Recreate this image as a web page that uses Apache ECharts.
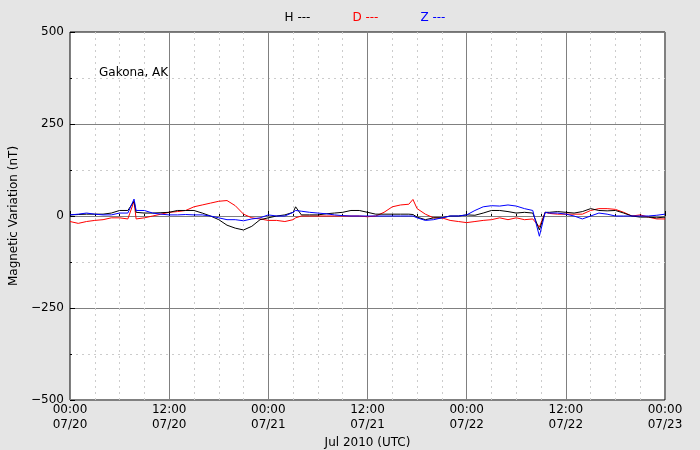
<!DOCTYPE html>
<html>
<head>
<meta charset="utf-8">
<script src="https://cdn.jsdelivr.net/npm/echarts@6/dist/echarts.min.js"></script>
<style>html,body{margin:0;background:#e5e5e5}#main{width:700px;height:450px}</style>
</head>
<body>
<div id="main"></div>
<script>
// hours since 07/20 00:00 UTC
const hours = [0,1,2,3,4,5,6,7,7.75,8,9,10,11,12,13,14,15,16,17,18,19,20,21,22,23,24,25,26,27,27.3,28,29,30,31,32,33,34,
  35,36,37,38,39,40,41,41.5,42,43,44,45,46,47,48,49,50,51,52,53,54,55,56,56.8,57.5,58,59,60,61,62,63,64,65,66,67,68,69,70,71,72]
const hValues = [3,4,5,5,5,8,15,15,40,10,8,8,9,10,15,15,15,8,0,-10,-25,-33,-38,-28,-10,-5,0,3,10,25,3,3,3,6,8,10,15,
  15,10,5,5,5,5,5,4,-3,-10,-5,-5,0,0,3,2,8,15,15,12,8,10,8,-38,10,10,12,10,8,12,20,15,14,15,8,0,-3,-3,-5,-3]
const dValues = [-15,-20,-15,-12,-10,-5,-5,-8,40,-8,-5,0,5,10,12,15,25,30,35,40,42,28,5,-5,-8,-12,-12,-15,-10,-5,0,0,0,0,0,0,0,
  0,-2,0,10,25,30,32,45,20,5,-5,-5,-12,-15,-18,-15,-12,-10,-5,-10,-5,-10,-8,-30,10,7,5,5,5,5,15,20,20,18,10,0,3,-3,-8,-8]
const zValues = [3,5,8,5,3,3,8,8,46,15,15,8,5,3,3,4,3,3,0,-5,-10,-10,-13,-8,-5,3,0,0,10,15,13,10,8,6,3,1,0,
  0,0,0,0,0,0,0,0,-5,-12,-10,-5,0,0,3,15,25,28,27,30,27,20,15,-55,10,8,8,5,0,-8,0,8,5,0,0,0,0,0,2,5]
const tickDates = ['07/20','07/20','07/21','07/21','07/22','07/22','07/23']

const pair = (vals) => hours.map((h, i) => [h, vals[i]])

var myChart = echarts.init(document.getElementById('main'))

const dotted = { show: true, lineStyle: { color: '#cccccc', type: [2, 4], width: 1 } }
const textFont = { fontFamily: 'DejaVu Sans', fontSize: 12, color: '#000' }

var option = {
  backgroundColor: '#e5e5e5',
  animation: false,
  grid: { left: 70, right: 35, top: 32, bottom: 50, outerBoundsMode: 'none', containLabel: false,
    show: true, backgroundColor: '#fff', borderColor: '#000', borderWidth: 1 },
  legend: {
    top: 6, left: 'center', icon: 'none', itemGap: 12,
    data: [
      { name: 'H ---', textStyle: { color: '#000' } },
      { name: 'D ---', textStyle: { color: '#ff0000' } },
      { name: 'Z ---', textStyle: { color: '#0000ff' } }
    ],
    textStyle: { fontFamily: 'DejaVu Sans', fontSize: 12 }
  },
  graphic: [{ type: 'text', left: 99, top: 67, style: { text: 'Gakona, AK', font: '12px DejaVu Sans', fill: '#000' } }],
  xAxis: {
    type: 'value', min: 0, max: 72, interval: 12,
    name: 'Jul 2010 (UTC)', nameLocation: 'middle', nameGap: 32, nameTextStyle: textFont,
    axisLine: { show: false },
    axisTick: { inside: true, length: 5, lineStyle: { color: '#000' } },
    minorTick: { show: true, splitNumber: 4, length: 2, lineStyle: { color: '#000' } },
    axisLabel: Object.assign({ margin: 2, lineHeight: 15,
      formatter: (v) => (v % 24 === 0 ? '00:00' : '12:00') + '\n' + tickDates[v / 12] }, textFont),
    splitLine: { show: true, lineStyle: { color: '#808080', width: 1 } },
    minorSplitLine: dotted
  },
  yAxis: {
    type: 'value', min: -500, max: 500, interval: 250,
    name: 'Magnetic Variation (nT)', nameLocation: 'middle', nameGap: 44, nameTextStyle: textFont,
    axisLine: { show: false },
    axisTick: { inside: true, length: 5, lineStyle: { color: '#000' } },
    minorTick: { show: true, splitNumber: 2, length: 2, lineStyle: { color: '#000' } },
    axisLabel: Object.assign({ margin: 6, formatter: (v) => String(v).replace('-', '\u2212') }, textFont),
    splitLine: { show: true, lineStyle: { color: '#808080', width: 1 } },
    minorSplitLine: dotted
  },
  series: [
    { name: 'H ---', type: 'line', data: pair(hValues), showSymbol: false, lineStyle: { color: '#000', width: 1 }, itemStyle: { color: '#000' }, z: 3 },
    { name: 'D ---', type: 'line', data: pair(dValues), showSymbol: false, lineStyle: { color: '#ff0000', width: 1 }, itemStyle: { color: '#ff0000' }, z: 2 },
    { name: 'Z ---', type: 'line', data: pair(zValues), showSymbol: false, lineStyle: { color: '#0000ff', width: 1 }, itemStyle: { color: '#0000ff' }, z: 4 }
  ]
}

myChart.setOption(option)
</script>
</body>
</html>
